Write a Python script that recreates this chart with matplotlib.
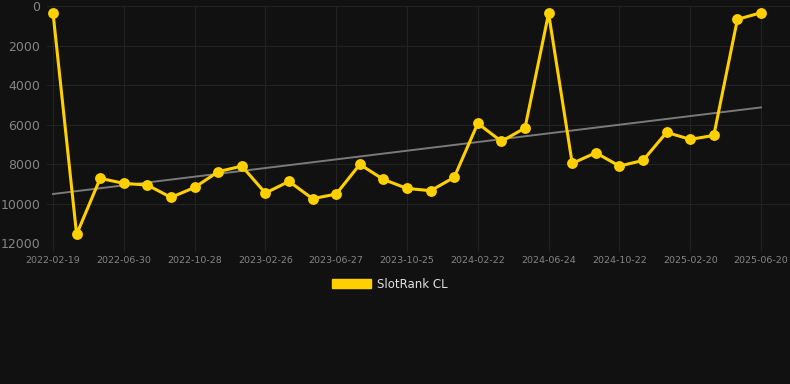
import numpy as np
import matplotlib.pyplot as plt
from matplotlib.patches import Patch

# rank per snapshot (lower is better, axis inverted)
dates = [
    "2022-02-19", "", "", "2022-06-30", "", "", "2022-10-28", "", "",
    "2023-02-26", "", "", "2023-06-27", "", "", "2023-10-25", "", "",
    "2024-02-22", "", "", "2024-06-24", "", "", "2024-10-22", "", "",
    "2025-02-20", "", "", "2025-06-20",
]
rank = [
    340, 11550, 8715, 8970, 9055, 9680, 9175, 8380, 8095, 9460,
    8870, 9745, 9510, 8010, 8770, 9225, 9340, 8665, 5935, 6845,
    6170, 370, 7960, 7420, 8095, 7810, 6390, 6745, 6545, 675, 340,
]
series_name = "SlotRank CL"

BG = "#111111"
GRID = "#232323"
YELLOW = "#FFD000"

x = np.arange(len(rank))
coef = np.polyfit(x, rank, 1)
trend = np.polyval(coef, x)

fig = plt.figure(figsize=(7.9, 3.84), dpi=100, facecolor=BG)
ax = fig.add_axes([47 / 790, 1 - 243.3 / 384, 1 - 47 / 790, (243.3 - 6) / 384])
ax.set_facecolor(BG)

ax.plot(x, trend, color="#7a7a7a", linewidth=1.4, zorder=2)
ax.plot(x, rank, color=YELLOW, linewidth=2.2, marker="o", markersize=7.8,
        markeredgewidth=0, zorder=3, clip_on=False)

ax.set_ylim(12000, 0)
ax.set_xlim(-6 / 23.6, 30 + 29 / 23.6)
ax.set_yticks(range(0, 12001, 2000))
tick_idx = [i for i, d in enumerate(dates) if d]
ax.set_xticks(tick_idx)
ax.set_xticklabels([dates[i] for i in tick_idx])

ax.grid(True, color=GRID, linewidth=0.8)
ax.set_axisbelow(True)
for s in ax.spines.values():
    s.set_visible(False)
ax.tick_params(axis="y", colors="#858585", labelsize=9, length=0, pad=5)
ax.tick_params(axis="x", colors="#858585", labelsize=6.8, length=6,
               color=GRID, pad=3)

fig.legend(handles=[Patch(color=YELLOW, label=series_name)],
           loc="center", bbox_to_anchor=(390 / 790, 1 - 284 / 384),
           frameon=False, fontsize=8.5, labelcolor="#e0e0e0",
           handlelength=3.3, handleheight=0.9, handletextpad=0.5)

fig.savefig("out.png", dpi=100, facecolor=BG)
